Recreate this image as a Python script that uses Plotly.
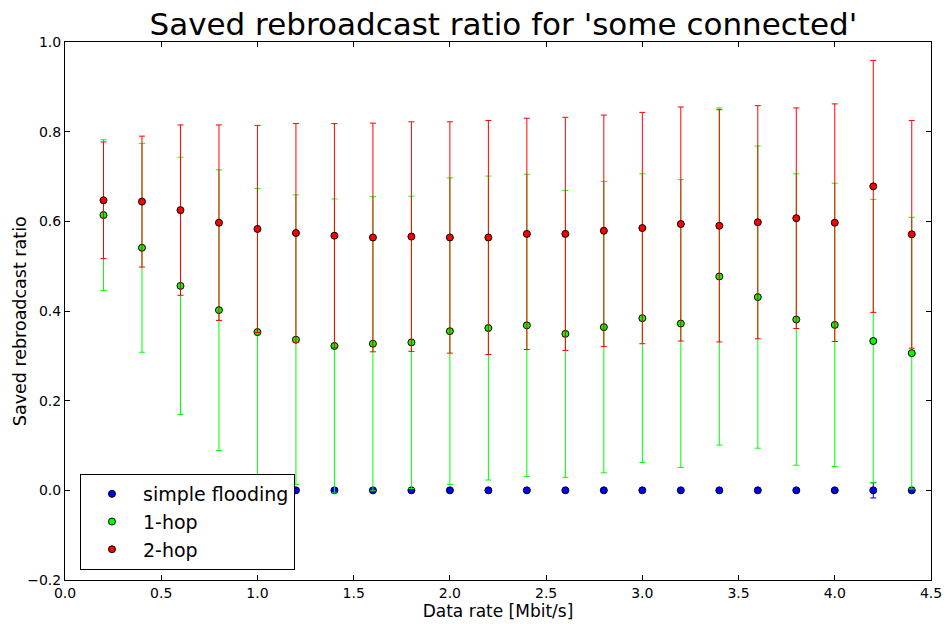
import plotly.graph_objects as go

# Data rates [Mbit/s]
rates = [0.2, 0.4, 0.6, 0.8, 1.0, 1.2, 1.4, 1.6, 1.8, 2.0, 2.2,
         2.4, 2.6, 2.8, 3.0, 3.2, 3.4, 3.6, 3.8, 4.0, 4.2, 4.4]

# Simple flooding: mean and standard deviation
flood_mean = [0.0] * 22
flood_std = [0.0] * 20 + [0.017, 0.0]

# 1-hop: mean and standard deviation
hop1_mean = [0.614, 0.541, 0.456, 0.402, 0.353, 0.336, 0.322, 0.327, 0.330, 0.355, 0.362,
             0.368, 0.349, 0.364, 0.384, 0.372, 0.477, 0.431, 0.381, 0.369, 0.333, 0.306]
hop1_std = [0.168, 0.233, 0.287, 0.313, 0.320, 0.323, 0.328, 0.328, 0.326, 0.342, 0.339,
            0.337, 0.320, 0.325, 0.322, 0.321, 0.376, 0.337, 0.325, 0.316, 0.316, 0.303]

# 2-hop: mean and standard deviation
hop2_mean = [0.647, 0.644, 0.625, 0.597, 0.583, 0.574, 0.568, 0.564, 0.566, 0.564, 0.564,
             0.572, 0.572, 0.579, 0.585, 0.594, 0.590, 0.598, 0.607, 0.597, 0.678, 0.571]
hop2_std = [0.130, 0.146, 0.190, 0.218, 0.231, 0.244, 0.250, 0.255, 0.256, 0.258, 0.261,
            0.258, 0.260, 0.258, 0.258, 0.261, 0.259, 0.260, 0.246, 0.265, 0.281, 0.254]

series = [
    ("simple flooding", flood_mean, flood_std, "#0000ff"),
    ("1-hop", hop1_mean, hop1_std, "#00ff00"),
    ("2-hop", hop2_mean, hop2_std, "#ff0000"),
]

FONT = "DejaVu Sans"

fig = go.Figure()
for name, mean, std, color in series:
    fig.add_trace(go.Scatter(
        x=rates, y=mean, mode="markers", name=name,
        marker=dict(color=color, size=7, line=dict(color="black", width=1)),
        error_y=dict(type="data", array=std, visible=True, color=color,
                     thickness=1, width=3),
    ))

axis_common = dict(
    showline=True, linecolor="black", linewidth=1, mirror="allticks",
    ticks="inside", ticklen=5, tickcolor="black", tickwidth=1,
    showgrid=False, zeroline=False, tickformat=".1f", automargin=False,
    tickfont=dict(family=FONT, size=14, color="black"),
)

fig.update_layout(
    width=948, height=624,
    paper_bgcolor="white", plot_bgcolor="white",
    margin=dict(l=65, r=17, t=42, b=44),
    title=dict(text="Saved rebroadcast ratio for 'some connected'",
               font=dict(family=FONT, size=31, color="black"),
               x=0.531, xanchor="center", y=0.962, yanchor="middle"),
    xaxis=dict(range=[0, 4.5], dtick=0.5, tick0=0,
               title=dict(text="Data rate [Mbit/s]", standoff=4,
                          font=dict(family=FONT, size=17, color="black")),
               **axis_common),
    yaxis=dict(range=[-0.2, 1.0], dtick=0.2, tick0=-0.2, **axis_common),
    legend=dict(x=0.0173, y=0.0186, xanchor="left", yanchor="bottom",
                bgcolor="white", bordercolor="black", borderwidth=1,
                font=dict(family=FONT, size=19, color="black"),
                itemwidth=52, tracegroupgap=0),
    showlegend=True,
    annotations=[dict(
        text="Saved rebroadcast ratio", textangle=-90,
        xref="paper", yref="paper", x=-0.052, y=0.481,
        xanchor="center", yanchor="middle", showarrow=False,
        font=dict(family=FONT, size=17.5, color="black"),
    )],
)

fig.write_html("out.html")
